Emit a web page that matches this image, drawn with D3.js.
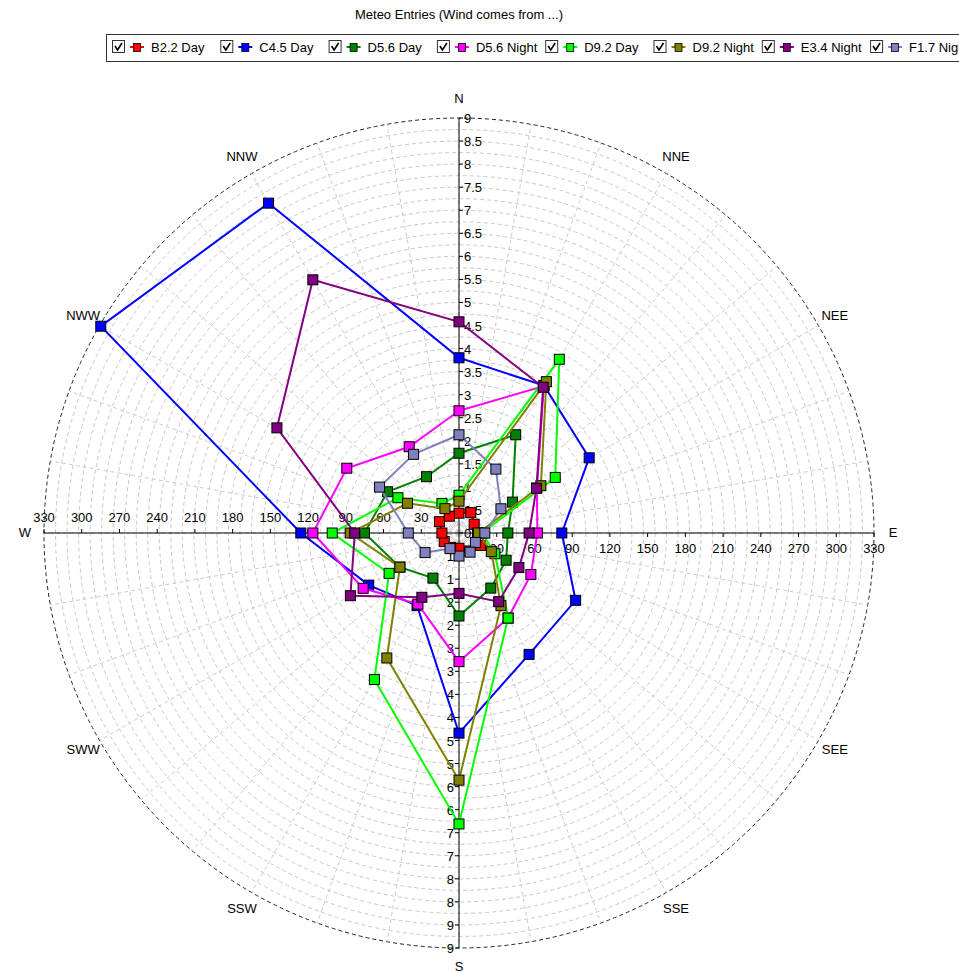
<!DOCTYPE html>
<html>
<head>
<meta charset="utf-8">
<script src="https://cdn.jsdelivr.net/npm/d3@7"></script>
<style>
  html, body { margin: 0; padding: 0; background: #fff; }
  svg { display: block; font-family: "Liberation Sans", Arial, sans-serif; }
</style>
</head>
<body>
<svg id="chart" width="959" height="973"></svg>
<script>
// ---------- DATA ----------
const directions = ["N","NNE","NEE","E","SEE","SSE","S","SSW","SWW","W","NWW","NNW"];
const seriesNames = ["B2.2 Day","C4.5 Day","D5.6 Day","D5.6 Night","D9.2 Day","D9.2 Night","E3.4 Night","F1.7 Night"];
const seriesColors = ["#ff0000","#0000ff","#008000","#ff00ff","#00ff00","#808000","#800080","#8080c0"];
const b22Day   = [0.43, 0.51, 0.38, 0.40, 0.54, 0.45, 0.33, 0.36, 0.37, 0.37, 0.49, 0.42];
const c45Day   = [3.80, 3.69, 3.26, 2.23, 2.92, 3.04, 4.34, 1.82, 2.26, 3.43, 8.97, 8.26];
const d56Day   = [1.73, 2.46, 1.34, 1.06, 1.18, 1.38, 1.80, 1.13, 1.48, 2.05, 1.79, 1.41];
const d56Night = [2.65, 3.68, 1.95, 1.70, 1.80, 2.13, 2.79, 1.78, 2.40, 3.17, 2.81, 2.16];
const d92Day   = [0.82, 4.35, 2.41, 0.50, 0.90, 2.13, 6.31, 3.67, 1.75, 2.75, 1.53, 0.74];
const d92Night = [0.69, 3.79, 2.05, 0.42, 0.81, 1.82, 5.36, 3.13, 1.48, 2.36, 1.29, 0.61];
const e34Night = [4.58, 3.65, 1.94, 1.52, 1.50, 1.72, 1.31, 1.61, 2.72, 2.26, 4.56, 6.34];
const f17Night = [2.13, 1.60, 1.05, 0.56, 0.41, 0.48, 0.50, 0.39, 0.85, 1.10, 1.99, 1.97];
const seriesValues = [b22Day, c45Day, d56Day, d56Night, d92Day, d92Night, e34Night, f17Night];
const radialTicks = d3.range(0, 9.001, 0.5);
const horizTicks = [30,60,90,120,150,180,210,240,270,300,330];
const titleText = "Meteo Entries (Wind comes from ...)";

// ---------- LAYOUT ----------
const svg = d3.select("#chart");
const cx = 459, cy = 533, R = 415;
const FS = 13;
const rScale = d3.scaleLinear().domain([0, 9]).range([0, R]);
const hScale = d3.scaleLinear().domain([0, 330]).range([0, R]);
const angOf = i => i * 2 * Math.PI / directions.length;

// Title
svg.append("text").attr("x", cx).attr("y", 19).attr("text-anchor", "middle")
  .attr("font-size", FS).attr("fill", "#000").text(titleText);

// Legend
const leg = svg.append("g");
leg.append("rect").attr("x", 106.5).attr("y", 34.5).attr("width", 870).attr("height", 27)
  .attr("fill", "#fff").attr("stroke", "#333").attr("stroke-width", 1);
seriesNames.forEach((name, i) => {
  const x0 = 112 + i * 108.3, yc = 47;
  const g = leg.append("g");
  g.append("rect").attr("x", x0 + 0.5).attr("y", yc - 6.5).attr("width", 12).attr("height", 12)
    .attr("fill", "#fff").attr("stroke", "#333");
  g.append("path").attr("d", `M${x0+3},${yc-1} L${x0+5.5},${yc+3} L${x0+10},${yc-4}`)
    .attr("fill", "none").attr("stroke", "#000").attr("stroke-width", 1.6);
  g.append("line").attr("x1", x0 + 18).attr("x2", x0 + 32).attr("y1", yc).attr("y2", yc)
    .attr("stroke", seriesColors[i]).attr("stroke-width", 2);
  g.append("rect").attr("x", x0 + 21.5).attr("y", yc - 3.5).attr("width", 7).attr("height", 8)
    .attr("fill", seriesColors[i]).attr("stroke", "#000").attr("stroke-width", 0.8);
  g.append("text").attr("x", x0 + 39).attr("y", yc + 5).attr("font-size", FS)
    .attr("fill", "#000").text(name);
});

// Plot group
const plot = svg.append("g").attr("transform", `translate(${cx},${cy})`);

// Grid circles
const circleVals = d3.range(0.25, 8.99, 0.25);
plot.selectAll("circle.grid").data(circleVals).join("circle")
  .attr("r", d => rScale(d)).attr("fill", "none")
  .attr("stroke", "#c8c8c8").attr("stroke-width", 1).attr("stroke-dasharray", "4,3");
plot.append("circle").attr("r", rScale(9)).attr("fill", "none")
  .attr("stroke", "#222").attr("stroke-width", 1).attr("stroke-dasharray", "4,3");

// Spokes every 10 degrees
const spokeAngles = d3.range(0, 360, 10);
plot.selectAll("line.spoke").data(spokeAngles).join("line")
  .attr("x1", 0).attr("y1", 0)
  .attr("x2", d => d3.pointRadial(d * Math.PI / 180, rScale(9))[0])
  .attr("y2", d => d3.pointRadial(d * Math.PI / 180, rScale(9))[1])
  .attr("stroke", "#cccccc").attr("stroke-width", 1).attr("stroke-dasharray", "4,3");

// Axes lines
plot.append("line").attr("x1", 0).attr("x2", 0).attr("y1", -R).attr("y2", R).attr("stroke", "#000");
plot.append("line").attr("x1", -R).attr("x2", R).attr("y1", 0).attr("y2", 0).attr("stroke", "#000");

const fmtTop = v => (Number.isInteger(v) ? String(v) : v.toFixed(1));
// Top vertical axis labels
radialTicks.forEach(v => {
  const y = -rScale(v);
  plot.append("line").attr("x1", 0).attr("x2", 4).attr("y1", y).attr("y2", y).attr("stroke", "#000");
  plot.append("text").attr("x", 5).attr("y", y + 5).attr("font-size", FS).attr("fill", "#000")
    .text(fmtTop(v));
});
// Bottom vertical axis labels (rounded)
radialTicks.filter(v => v > 0).forEach(v => {
  const y = rScale(v);
  plot.append("line").attr("x1", -4).attr("x2", 0).attr("y1", y).attr("y2", y).attr("stroke", "#000");
  plot.append("text").attr("x", -5).attr("y", y + 5).attr("text-anchor", "end")
    .attr("font-size", FS).attr("fill", "#000").text(String(Math.round(v)));
});
// Horizontal axis labels
horizTicks.forEach(v => {
  const x = hScale(v);
  plot.append("line").attr("x1", -x).attr("x2", -x).attr("y1", -4).attr("y2", 0).attr("stroke", "#000");
  plot.append("text").attr("x", -x).attr("y", -11).attr("text-anchor", "middle")
    .attr("font-size", FS).attr("fill", "#000").text(v);
  plot.append("line").attr("x1", x).attr("x2", x).attr("y1", 0).attr("y2", 4).attr("stroke", "#000");
  plot.append("text").attr("x", x).attr("y", 20).attr("text-anchor", "middle")
    .attr("font-size", FS).attr("fill", "#000").text(v);
});

// Direction labels
directions.forEach((d, i) => {
  const [x, y] = d3.pointRadial(angOf(i), R + 19);
  plot.append("text").attr("x", x).attr("y", y + 4).attr("text-anchor", "middle")
    .attr("font-size", FS).attr("fill", "#000").text(d);
});

// Series
const lineGen = d3.lineRadial()
  .angle((d, i) => angOf(i))
  .radius(d => rScale(d))
  .curve(d3.curveLinearClosed);

seriesValues.forEach((vals, s) => {
  const g = plot.append("g");
  g.append("path").attr("d", lineGen(vals)).attr("fill", "none")
    .attr("stroke", seriesColors[s]).attr("stroke-width", 2);
  g.selectAll("rect").data(vals).join("rect")
    .attr("x", (d, i) => d3.pointRadial(angOf(i), rScale(d))[0] - 5)
    .attr("y", (d, i) => d3.pointRadial(angOf(i), rScale(d))[1] - 5)
    .attr("width", 10).attr("height", 10)
    .attr("fill", seriesColors[s]).attr("stroke", "#000").attr("stroke-width", 1);
});
</script>
</body>
</html>
